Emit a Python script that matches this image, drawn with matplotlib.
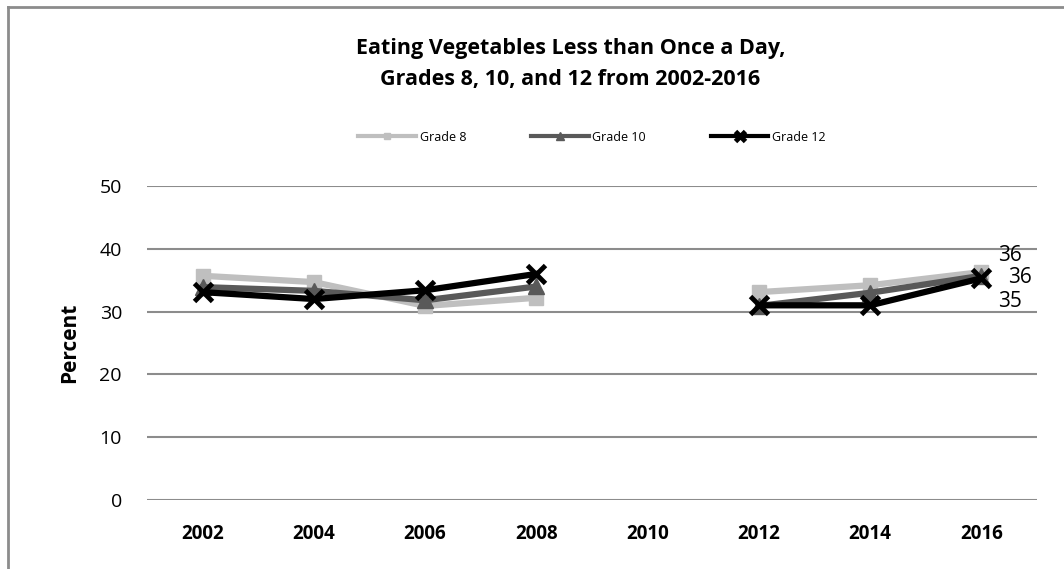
import matplotlib.pyplot as plt
import numpy as np

plt.rcParams['font.family'] = ['Open Sans', 'DejaVu Sans']

years = ['2002', '2004', '2006', '2008', '2010', '2012', '2014', '2016']
grade8 = [35.7, 34.7, 30.9, 32.2, np.nan, 33.1, 34.2, 36.3]
grade10 = [33.9, 33.3, 31.8, 34.0, np.nan, 30.9, 33.0, 35.7]
grade12 = [33.1, 32.0, 33.4, 36.0, np.nan, 31.0, 31.0, 35.3]
end_labels = ['36', '36', '35']

fig = plt.figure(figsize=(10.64, 5.69), dpi=100)
ax = fig.add_axes([147 / 1064, 1 - 500 / 569, 890 / 1064, 314 / 569])

x = np.arange(len(years))
ax.plot(x, grade8, color='#BFBFBF', lw=4.5, marker='s', ms=10, label='Grade 8', zorder=3)
ax.plot(x, grade10, color='#595959', lw=4.5, marker='^', ms=11, label='Grade 10', zorder=4)
ax.plot(x, grade12, color='black', lw=4.5, marker='x', ms=13, mew=3.5, label='Grade 12', zorder=5)

# data labels on the last point
last = len(years) - 1
ax.annotate(end_labels[0], (x[last], grade8[last]), xytext=(12, 12), textcoords='offset points',
            ha='left', va='center', fontsize=15)
ax.annotate(end_labels[1], (x[last], grade10[last]), xytext=(19, -1), textcoords='offset points',
            ha='left', va='center', fontsize=15)
ax.annotate(end_labels[2], (x[last], grade12[last]), xytext=(12, -17), textcoords='offset points',
            ha='left', va='center', fontsize=15)

ax.set_xlim(-0.5, len(years) - 0.5)
ax.set_ylim(0, 50)
ax.set_yticks(range(0, 51, 10))
ax.set_xticks(x)
ax.set_xticklabels(years, fontsize=13.5, fontweight='bold')
ax.tick_params(axis='y', labelsize=14, length=0, pad=18)
ax.tick_params(axis='x', length=0, pad=17)
ax.grid(axis='y', color='#8C8C8C', lw=1.5)
ax.set_axisbelow(True)
for s in ax.spines.values():
    s.set_visible(False)
ax.set_ylabel('Percent', fontsize=15, fontweight='bold', labelpad=14)

fig.text(0.536, 0.887, 'Eating Vegetables Less than Once a Day,\nGrades 8, 10, and 12 from 2002-2016',
         ha='center', va='center', fontsize=15.5, fontweight='bold', linespacing=1.65)

leg = ax.legend(loc='center', bbox_to_anchor=(0.5, 1.155), ncol=3, frameon=False, fontsize=9,
                handlelength=4.6, columnspacing=5.2, handletextpad=0.3, markerscale=0.5)
for h in leg.get_lines():
    h.set_linewidth(3)

# outer chart border (top and left visible)
fig.add_artist(plt.Line2D([8 / 1064, 1.0], [1 - 7 / 569, 1 - 7 / 569], color='#8C8C8C', lw=2))
fig.add_artist(plt.Line2D([8 / 1064, 8 / 1064], [0, 1 - 7 / 569], color='#8C8C8C', lw=2))

fig.savefig('out.png', dpi=100)
